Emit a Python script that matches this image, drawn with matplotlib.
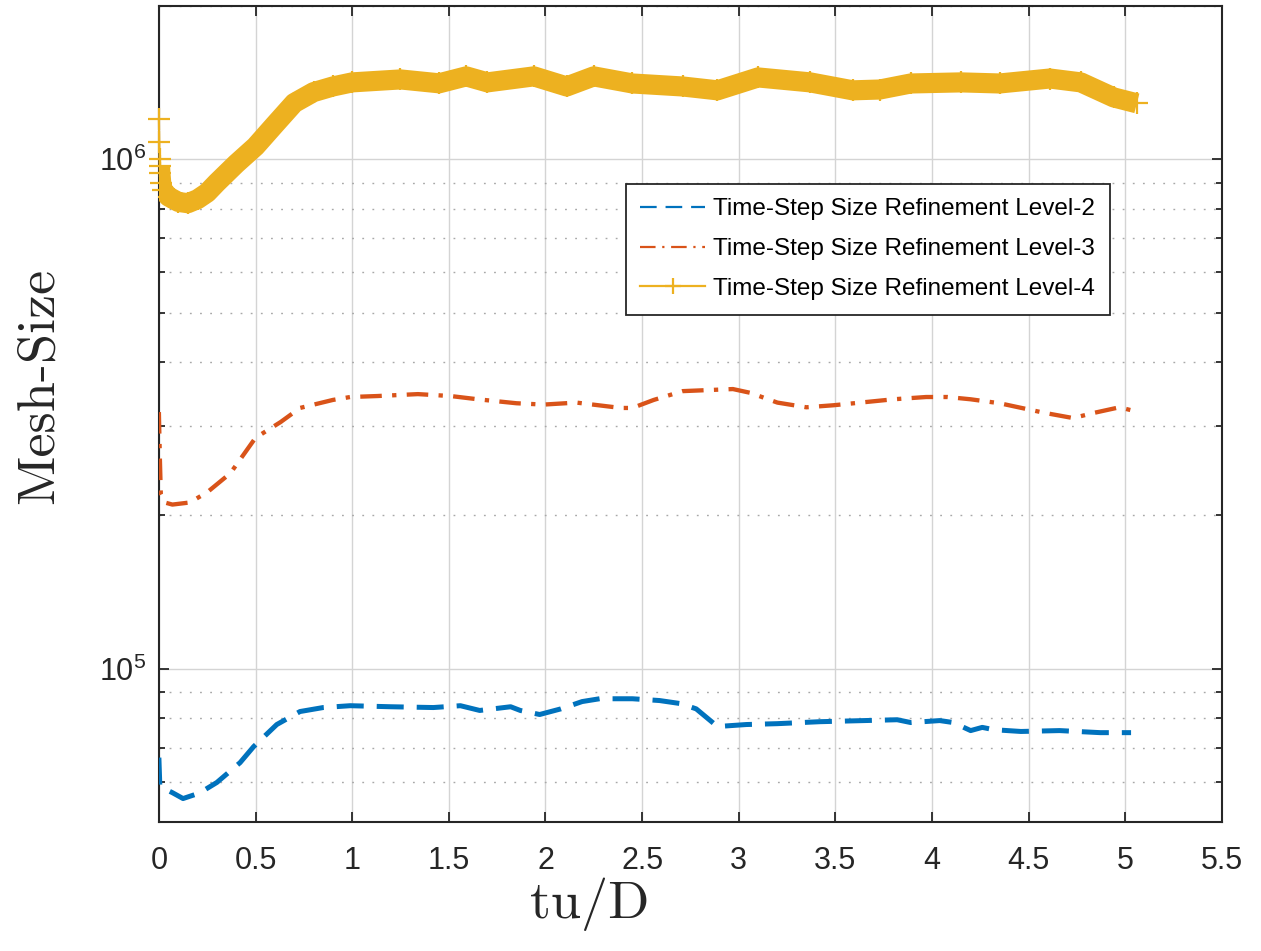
import numpy as np
import matplotlib
matplotlib.use('Agg')
import matplotlib.pyplot as plt
from matplotlib import font_manager
from matplotlib.lines import Line2D
from matplotlib.ticker import LogLocator, NullFormatter, LogFormatterSciNotation

# --- data ---
# Time-Step Size Refinement Level-2
t2 = [0, 0.005, 0.07, 0.125, 0.21, 0.3, 0.42, 0.49, 0.61, 0.73, 0.85, 0.99, 1.2, 1.42,
      1.56, 1.66, 1.82, 1.87, 1.97, 2.08, 2.19, 2.28, 2.45, 2.59, 2.7, 2.78, 2.89, 3.04,
      3.2, 3.42, 3.65, 3.82, 3.89, 4.04, 4.11, 4.2, 4.26, 4.32, 4.46, 4.66, 4.87, 5.03]
m2 = [66.9, 58.7, 57.1, 55.6, 57.0, 59.8, 65.4, 70.3, 77.7, 82.4, 83.9, 84.6, 84.2, 83.9,
      84.6, 82.8, 84.2, 82.8, 81.3, 83.4, 86.2, 87.3, 87.3, 86.6, 85.4, 83.4, 77.0, 77.7,
      78.0, 78.7, 79.1, 79.4, 78.4, 79.1, 78.4, 75.6, 76.7, 75.9, 75.3, 75.6, 74.9, 74.9]  # x1e3

# Time-Step Size Refinement Level-3
t3 = [0, 0.005, 0.01, 0.03, 0.07, 0.16, 0.25, 0.37, 0.5, 0.63, 0.73, 0.9, 0.99, 1.13,
      1.34, 1.51, 1.65, 1.85, 1.99, 2.16, 2.39, 2.45, 2.56, 2.71, 2.97, 3.06, 3.2, 3.35,
      3.49, 3.63, 3.8, 3.97, 4.08, 4.2, 4.35, 4.58, 4.73, 4.84, 4.97, 5.04]
m3 = [3.19, 2.6, 2.2, 2.12, 2.10, 2.12, 2.22, 2.42, 2.84, 3.05, 3.25, 3.37, 3.415, 3.43,
      3.46, 3.43, 3.38, 3.32, 3.30, 3.33, 3.25, 3.25, 3.37, 3.507, 3.54, 3.48, 3.33, 3.26,
      3.29, 3.33, 3.38, 3.415, 3.415, 3.38, 3.32, 3.18, 3.105, 3.18, 3.26, 3.21]  # x1e5

# Time-Step Size Refinement Level-4
t4 = [0, 0.002, 0.004, 0.006, 0.008, 0.012, 0.02, 0.05, 0.1, 0.15, 0.2, 0.25, 0.3, 0.4,
      0.5, 0.6, 0.7, 0.8, 0.9, 1.0, 1.25, 1.45, 1.59, 1.7, 1.94, 2.11, 2.25, 2.45, 2.71,
      2.89, 3.1, 3.37, 3.59, 3.73, 3.89, 4.15, 4.35, 4.61, 4.77, 4.94, 5.06]
m4 = [1.20, 1.08, 1.00, 0.97, 0.94, 0.90, 0.87, 0.845, 0.825, 0.82, 0.835, 0.86, 0.90, 0.98,
      1.06, 1.17, 1.29, 1.355, 1.39, 1.416, 1.435, 1.41, 1.455, 1.416, 1.455, 1.39, 1.455,
      1.409, 1.39, 1.366, 1.448, 1.416, 1.366, 1.371, 1.409, 1.416, 1.409, 1.441, 1.416,
      1.323, 1.288]  # x1e6

labels = ['Time-Step Size Refinement Level-2',
          'Time-Step Size Refinement Level-3',
          'Time-Step Size Refinement Level-4']
xticks = np.arange(0, 5.51, 0.5)

c_blue = '#0072BD'
c_orange = '#D95319'
c_yellow = '#EDB120'
c_dark = '#262626'

names = {f.name for f in font_manager.fontManager.ttflist}
legend_font = 'Liberation Sans Narrow' if 'Liberation Sans Narrow' in names else 'Liberation Sans'
legend_size = 21 if legend_font == 'Liberation Sans Narrow' else 17.5

plt.rcParams['font.family'] = ['Liberation Sans', 'DejaVu Sans']

fig = plt.figure(figsize=(12.61, 9.51), dpi=100)
ax = fig.add_axes([0.126, 0.1356, 0.843, 0.8581])

y2 = np.array(m2) * 1e3
y3 = np.array(m3) * 1e5
y4 = np.array(m4) * 1e6

ax.plot(t2, y2, color=c_blue, lw=3.6, dashes=(5.4, 2.6), zorder=3)
ax.plot(t3, y3, color=c_orange, lw=3.1, dashes=(5, 2.4, 1, 2.4), zorder=3)
ax.plot(t4[3:], y4[3:], color=c_yellow, lw=14.5, solid_capstyle='butt',
        solid_joinstyle='round', zorder=3)
ax.plot(t4, y4, color=c_yellow, lw=1.5, marker='+', ms=16, mew=1.6, zorder=4,
        clip_on=False)

ax.set_yscale('log')
ax.set_xlim(0, 5.5)
ax.set_ylim(5e4, 2e6)
ax.set_xticks(xticks)
ax.set_xticklabels(['{:g}'.format(v) for v in xticks])
ax.yaxis.set_major_locator(LogLocator(base=10))
ax.yaxis.set_major_formatter(LogFormatterSciNotation())
ax.yaxis.set_minor_locator(LogLocator(base=10, subs=np.arange(2, 10)))
ax.yaxis.set_minor_formatter(NullFormatter())

ax.grid(True, which='major', color='#d4d4d4', lw=1.0, ls='-', zorder=0)
ax.grid(True, which='minor', axis='y', color='#a8a8a8', lw=1.0, ls=(0, (1.3, 6)), zorder=0)
ax.set_axisbelow(True)

ax.tick_params(which='both', direction='in', top=True, right=True, colors=c_dark,
               labelsize=22, width=1.3)
ax.tick_params(which='major', length=7)
ax.tick_params(which='minor', length=4.5)
ax.tick_params(axis='x', pad=17)
ax.tick_params(axis='y', pad=9)
for s in ax.spines.values():
    s.set_color(c_dark)
    s.set_linewidth(1.5)

ax.set_xlabel('tu/D', family='cmr10', fontsize=39, color=c_dark)
ax.set_ylabel('Mesh-Size', family='cmr10', fontsize=39, color=c_dark)
ax.xaxis.set_label_coords(0.405, -0.068)
ax.yaxis.set_label_coords(-0.09, 0.535)

handles = [Line2D([], [], color=c_blue, lw=1.6, dashes=(7.5, 4)),
           Line2D([], [], color=c_orange, lw=1.6, dashes=(7, 3, 1, 3)),
           Line2D([], [], color=c_yellow, lw=1.6, marker='+', ms=11, mew=1.6)]
leg = ax.legend(handles, labels, loc='upper right', bbox_to_anchor=(0.8946, 0.782),
                borderaxespad=0, fancybox=False, framealpha=1, edgecolor=c_dark,
                prop={'family': legend_font, 'size': legend_size},
                handlelength=2.65, handletextpad=0.35, labelspacing=0.73,
                borderpad=0.6)
leg.get_frame().set_linewidth(1.3)
for txt in leg.get_texts():
    txt.set_color('#000000')

fig.savefig('out.png', dpi=100)
